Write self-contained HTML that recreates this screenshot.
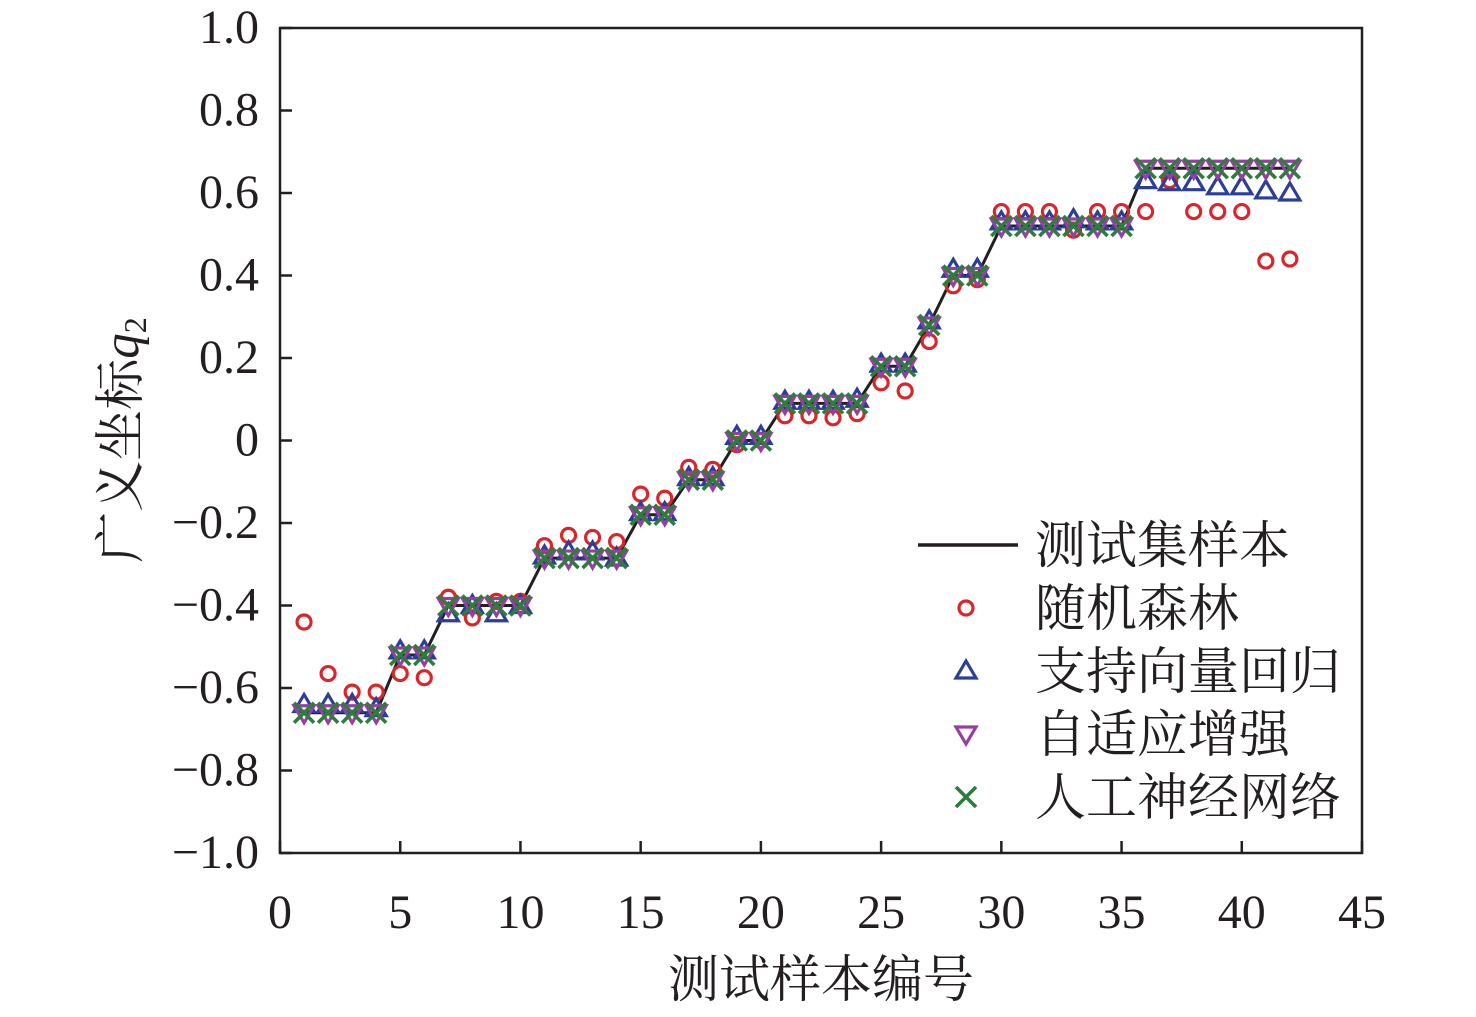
<!DOCTYPE html>
<html><head><meta charset="utf-8"><style>
body{margin:0;background:#fff}
svg text{font-family:"Liberation Serif","Noto Serif CJK SC",serif;fill:#231f20}
</style></head><body>
<svg width="1476" height="1012" xmlns="http://www.w3.org/2000/svg">
<g id="plot"></g>
</svg>
<script>
const xs=[];for(let i=1;i<=42;i++)xs.push(i);
const truth=[-0.66,-0.66,-0.66,-0.66,-0.52,-0.52,-0.40,-0.40,-0.40,-0.40,-0.285,-0.285,-0.285,-0.285,-0.18,-0.18,-0.095,-0.095,0,0,0.09,0.09,0.09,0.09,0.18,0.18,0.28,0.40,0.40,0.52,0.52,0.52,0.52,0.52,0.52,0.66,0.66,0.66,0.66,0.66,0.66,0.66];
const rf=[-0.44,-0.565,-0.61,-0.61,-0.565,-0.575,-0.38,-0.43,-0.39,-0.39,-0.255,-0.23,-0.235,-0.245,-0.13,-0.14,-0.065,-0.07,-0.01,0,0.06,0.06,0.055,0.065,0.14,0.12,0.24,0.375,0.39,0.555,0.555,0.555,0.51,0.555,0.555,0.555,0.63,0.555,0.555,0.555,0.435,0.44];
const svr=[-0.64,-0.64,-0.64,-0.65,-0.51,-0.51,-0.42,-0.40,-0.42,-0.40,-0.28,-0.27,-0.27,-0.285,-0.175,-0.175,-0.09,-0.09,0.01,0.01,0.095,0.095,0.095,0.10,0.185,0.185,0.29,0.415,0.415,0.53,0.53,0.53,0.535,0.53,0.53,0.63,0.625,0.625,0.615,0.615,0.605,0.60];
const ada=truth.slice();
const ann=truth.slice();
const xTicks=[0,5,10,15,20,25,30,35,40,45];
const yTicks=[-1.0,-0.8,-0.6,-0.4,-0.2,0,0.2,0.4,0.6,0.8,1.0];
const yLabels=["−1.0","−0.8","−0.6","−0.4","−0.2","0","0.2","0.4","0.6","0.8","1.0"];
const X0=280,X1=1362,Y0=853,Y1=28;
const sx=v=>X0+(v-0)/45*(X1-X0);
const sy=v=>Y0-(v+1)/2*(Y0-Y1);
const NS="http://www.w3.org/2000/svg";
const g=document.getElementById('plot');
function mk(t,a,p){const e=document.createElementNS(NS,t);for(const k in a)e.setAttribute(k,a[k]);(p||g).appendChild(e);return e;}
let e=mk('rect',{x:X0,y:Y1,width:X1-X0,height:Y0-Y1,fill:'none',stroke:'#231f20','stroke-width':2.5});


xTicks.forEach(t=>{
 const l=mk('line',{x1:sx(t),x2:sx(t),y1:Y0,y2:Y0-12,stroke:'#231f20','stroke-width':2.5});
 
 
 const tx=mk('text',{x:sx(t),y:928,'text-anchor':'middle','font-size':48});tx.textContent=t;
 
 
});
yTicks.forEach((t,i)=>{
 const l=mk('line',{x1:X0,x2:X0+12,y1:sy(t),y2:sy(t),stroke:'#231f20','stroke-width':2.5});
 
 
 const tx=mk('text',{x:259,y:sy(t)+15,'text-anchor':'end','font-size':48});tx.textContent=yLabels[i];
 
 
});
let t1=mk('text',{x:821,y:997,'text-anchor':'middle','font-size':51});t1.textContent='测试样本编号';


let t2=mk('text',{transform:'translate(138,440) rotate(-90)','text-anchor':'middle','font-size':51});
t2.innerHTML='广义坐标<tspan font-style="italic">q</tspan><tspan font-size="32" dy="8">2</tspan>';


const pl=mk('polyline',{points:xs.map((x,i)=>sx(x)+','+sy(truth[i])).join(' '),fill:'none',stroke:'#231f20','stroke-width':3});


function circ(cx,cy){return mk('circle',{cx,cy,r:7,fill:'none',stroke:'#d9262b','stroke-width':3.2});}
function tri(cx,cy,up,col){const s=10;const p=up?[[cx,cy-s],[cx-s,cy+s*0.7],[cx+s,cy+s*0.7]]:[[cx,cy+s],[cx-s,cy-s*0.7],[cx+s,cy-s*0.7]];return mk('polygon',{points:p.map(q=>q.join(',')).join(' '),fill:'none',stroke:col,'stroke-width':3.2});}
function cross(cx,cy){const s=10;return mk('path',{d:`M${cx-s},${cy-s}L${cx+s},${cy+s}M${cx-s},${cy+s}L${cx+s},${cy-s}`,stroke:'#2e7d3a','stroke-width':3.6});}
xs.forEach((x,i)=>{let m=circ(sx(x),sy(rf[i]));});
xs.forEach((x,i)=>{let m=tri(sx(x),sy(svr[i]),true,'#2b3f98');});
xs.forEach((x,i)=>{let m=tri(sx(x),sy(ada[i]),false,'#9540a0');});
xs.forEach((x,i)=>{let m=cross(sx(x),sy(ann[i]));});
const lg=mk('g',{});


const names=['测试集样本','随机森林','支持向量回归','自适应增强','人工神经网络'];
names.forEach((n,i)=>{
 const y=545+i*63;
 let s;
 if(i===0){s=mk('line',{x1:918,x2:1018,y1:y,y2:y,stroke:'#231f20','stroke-width':3.5},lg);}
 else if(i===1)s=circ(966,y);else if(i===2)s=tri(966,y,true,'#2b3f98');else if(i===3)s=tri(966,y,false,'#9540a0');else s=cross(966,y);
 lg.appendChild(s);
 
 
 const tx=mk('text',{x:1035,y:y+18,'font-size':51},lg);tx.textContent=n;
 
 
});
</script>
</body></html>
